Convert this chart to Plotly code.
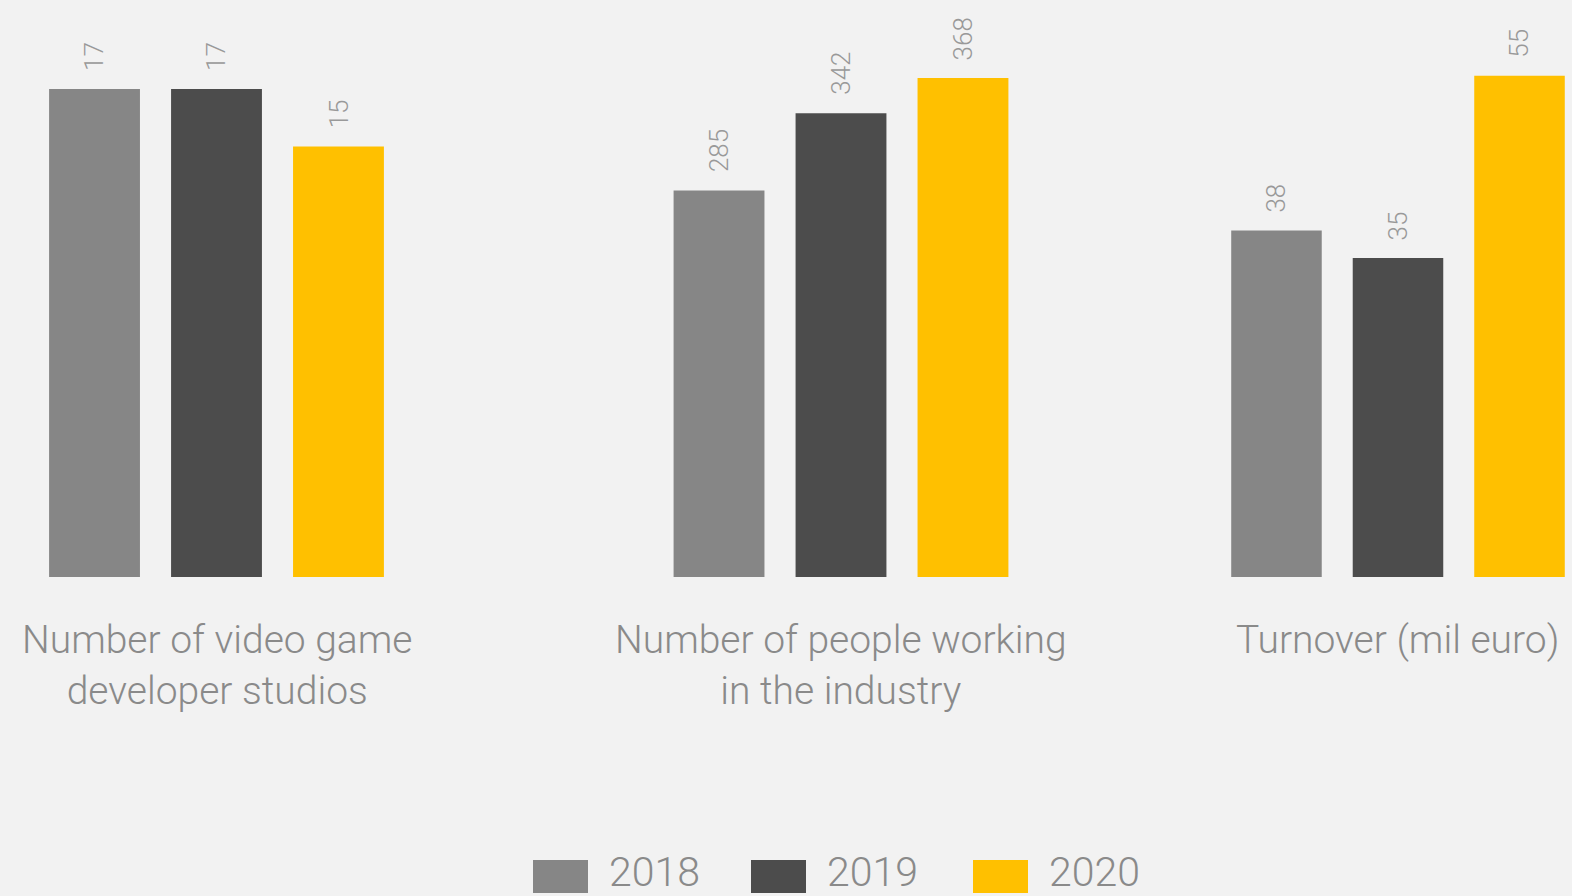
import plotly.graph_objects as go

# Data
years = ["2018", "2019", "2020"]
categories = [
    "Number of video game<br>developer studios",
    "Number of people working<br>in the industry",
    "Turnover (mil euro)",
]
studios = [17, 17, 15]
people = [285, 342, 368]
turnover = [38, 35, 55]
series = [studios, people, turnover]

colors = ["#868686", "#4c4c4c", "#ffc000"]
text_color = "#8a8a8a"
font_family = "Roboto"

W, H = 1572, 896
plot_bottom_px = 577

# per-group axis layout (domains in pixels, category ranges, value ranges)
x_domains_px = [(0, 433), (624.5, 1057.5), (1182.3, 1572)]
x_ranges = [(-0.775, 2.775), (-0.775, 2.775), (-0.775, 2.432)]
y_tops = [20.1, 425.5, 63.3]

fig = go.Figure()
ydom = [1 - plot_bottom_px / H, 1]

for i, vals in enumerate(series):
    sfx = "" if i == 0 else str(i + 1)
    fig.add_trace(go.Bar(
        x=[0, 1, 2], y=vals,
        width=0.745,
        marker=dict(color=colors, line=dict(width=0)),
        xaxis="x" + sfx, yaxis="y" + sfx,
        showlegend=False, hoverinfo="skip",
    ))
    d0, d1 = x_domains_px[i]
    fig.update_layout(**{
        "xaxis" + sfx: dict(domain=[d0 / W, min(d1 / W, 1)], range=list(x_ranges[i]),
                            visible=False, fixedrange=True),
        "yaxis" + sfx: dict(domain=ydom, range=[0, y_tops[i]], visible=False,
                            anchor="x" + sfx, fixedrange=True),
    })
    # value labels above bars
    for j, v in enumerate(vals):
        fig.add_annotation(
            x=j, y=v, xref="x" + sfx, yref="y" + sfx,
            text=str(v), showarrow=False, textangle=-90,
            yanchor="bottom", xanchor="center", yshift=16,
            font=dict(family=font_family, size=26, color="#999999", weight=300),
        )
    # category label under the group
    fig.add_annotation(
        x=1, y=1 - 615 / H, xref="x" + sfx, yref="paper",
        text=categories[i], showarrow=False, yanchor="top", xanchor="center",
        align="center",
        font=dict(family=font_family, size=39, color=text_color, weight=300),
    )

# legend drawn as swatches and labels along the bottom
swatch_x = [533, 751, 973]
for k, yr in enumerate(years):
    x0 = swatch_x[k]
    fig.add_shape(type="rect", xref="paper", yref="paper",
                  x0=x0 / W, x1=(x0 + 55) / W, y0=1 - 893 / H, y1=1 - 860 / H,
                  fillcolor=colors[k], line=dict(width=0))
    fig.add_annotation(
        x=(x0 + 74) / W, y=1 - 872 / H, xref="paper", yref="paper",
        text=yr, showarrow=False, xanchor="left", yanchor="middle",
        font=dict(family=font_family, size=41, color=text_color, weight=300),
    )

fig.update_layout(
    width=W, height=H,
    margin=dict(l=0, r=0, t=0, b=0),
    paper_bgcolor="#f2f2f2", plot_bgcolor="#f2f2f2",
    showlegend=False,
)

fig.write_html("out.html")
